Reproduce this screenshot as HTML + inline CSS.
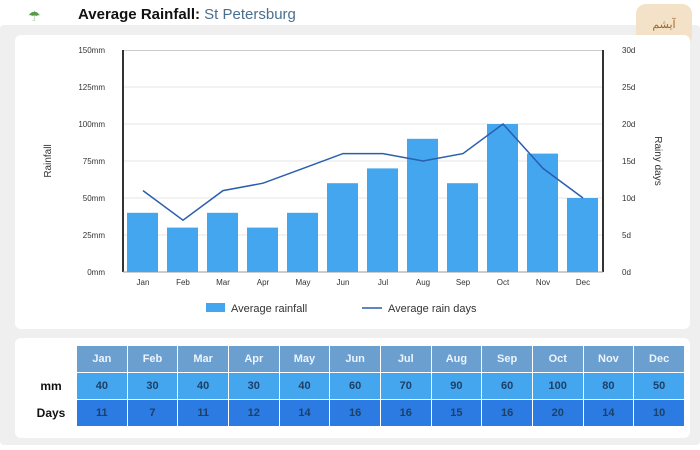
<!DOCTYPE html><html><head><style>
body{margin:0;width:700px;height:450px;background:#fff;font-family:"Liberation Sans",sans-serif;position:relative;overflow:hidden}
.bg{position:absolute;left:0;top:25px;width:700px;height:420px;background:#efefef;border-radius:4px}
.panel{position:absolute;background:#fff;border-radius:6px}
table{border-collapse:separate;border-spacing:1px;position:absolute;left:25px;top:345px;width:660px;table-layout:fixed;font-size:11px;font-weight:bold}
td{padding:0;height:26px;text-align:center;color:#1e3f66}
tr.h td{background:#6b9fcf;color:#eef4fb}
tr.m td{background:#44a6ee}
tr.d td{background:#2b7be3}
tr td.l{background:none;color:#111;font-size:12px}
</style></head><body>
<div class="bg"></div>
<div style="position:absolute;left:28px;top:8px;font-size:14px;color:#5a9a4a">☂</div>
<div style="position:absolute;left:78px;top:6px;font-size:15px;font-weight:bold;color:#111">Average Rainfall: <span style="font-weight:normal;color:#4a6f8f">St Petersburg</span></div>
<div style="position:absolute;left:636px;top:4px;width:56px;height:42px;border-radius:10px;background:#f3e2c8;color:#a0672a;font-size:11px;text-align:center;line-height:42px">آیشم</div>
<div class="panel" style="left:15px;top:35px;width:675px;height:294px"></div>
<div class="panel" style="left:15px;top:338px;width:675px;height:100px"></div>
<svg style="position:absolute;left:0;top:0" width="700" height="450" font-family="Liberation Sans,sans-serif">
<g stroke="#e4e4e4"><line x1="123" x2="603" y1="87" y2="87"/><line x1="123" x2="603" y1="124" y2="124"/><line x1="123" x2="603" y1="161" y2="161"/><line x1="123" x2="603" y1="198" y2="198"/><line x1="123" x2="603" y1="235" y2="235"/></g>
<line x1="123" x2="603" y1="50.5" y2="50.5" stroke="#ccc"/>
<line x1="123" x2="123" y1="50" y2="272" stroke="#333" stroke-width="2"/>
<line x1="603" x2="603" y1="50" y2="272" stroke="#333" stroke-width="2"/>
<line x1="123" x2="603" y1="272" y2="272" stroke="#999"/>
<g font-size="8" fill="#333" text-anchor="end">
<text x="105" y="53">150mm</text><text x="105" y="90">125mm</text><text x="105" y="127">100mm</text><text x="105" y="164">75mm</text><text x="105" y="201">50mm</text><text x="105" y="238">25mm</text><text x="105" y="275">0mm</text></g>
<g font-size="8" fill="#333"><text x="622" y="53">30d</text><text x="622" y="90">25d</text><text x="622" y="127">20d</text><text x="622" y="164">15d</text><text x="622" y="201">10d</text><text x="622" y="238">5d</text><text x="622" y="275">0d</text></g>
<text transform="translate(51,161) rotate(-90)" font-size="10" fill="#333" text-anchor="middle">Rainfall</text>
<text transform="translate(655,161) rotate(90)" font-size="10" fill="#333" text-anchor="middle">Rainy days</text>
<g fill="#43a6ef">
<rect x="127" y="212.8" width="31" height="59.2"/><rect x="167" y="227.6" width="31" height="44.4"/><rect x="207" y="212.8" width="31" height="59.2"/><rect x="247" y="227.6" width="31" height="44.4"/><rect x="287" y="212.8" width="31" height="59.2"/><rect x="327" y="183.2" width="31" height="88.8"/><rect x="367" y="168.4" width="31" height="103.6"/><rect x="407" y="138.8" width="31" height="133.2"/><rect x="447" y="183.2" width="31" height="88.8"/><rect x="487" y="124" width="31" height="148"/><rect x="527" y="153.6" width="31" height="118.4"/><rect x="567" y="198" width="31" height="74"/></g>
<polyline fill="none" stroke="#2a5fb0" stroke-width="1.5" points="143,190.6 183,220.2 223,190.6 263,183.2 303,168.4 343,153.6 383,153.6 423,161 463,153.6 503,124 543,168.4 583,198"/>
<g font-size="8" fill="#333" text-anchor="middle"><text x="143" y="285">Jan</text><text x="183" y="285">Feb</text><text x="223" y="285">Mar</text><text x="263" y="285">Apr</text><text x="303" y="285">May</text><text x="343" y="285">Jun</text><text x="383" y="285">Jul</text><text x="423" y="285">Aug</text><text x="463" y="285">Sep</text><text x="503" y="285">Oct</text><text x="543" y="285">Nov</text><text x="583" y="285">Dec</text></g>
<rect x="206" y="303" width="19" height="9" fill="#43a6ef"/>
<text x="231" y="312" font-size="11" fill="#333">Average rainfall</text>
<line x1="362" x2="382" y1="308" y2="308" stroke="#2a5fb0" stroke-width="1.5"/>
<text x="388" y="312" font-size="11" fill="#333">Average rain days</text>
</svg>
<table>
<colgroup><col style="width:50px"><col span="12"></colgroup>
<tr class="h"><td class="l"></td><td>Jan</td><td>Feb</td><td>Mar</td><td>Apr</td><td>May</td><td>Jun</td><td>Jul</td><td>Aug</td><td>Sep</td><td>Oct</td><td>Nov</td><td>Dec</td></tr>
<tr class="m"><td class="l">mm</td><td>40</td><td>30</td><td>40</td><td>30</td><td>40</td><td>60</td><td>70</td><td>90</td><td>60</td><td>100</td><td>80</td><td>50</td></tr>
<tr class="d"><td class="l">Days</td><td>11</td><td>7</td><td>11</td><td>12</td><td>14</td><td>16</td><td>16</td><td>15</td><td>16</td><td>20</td><td>14</td><td>10</td></tr>
</table>
</body></html>
